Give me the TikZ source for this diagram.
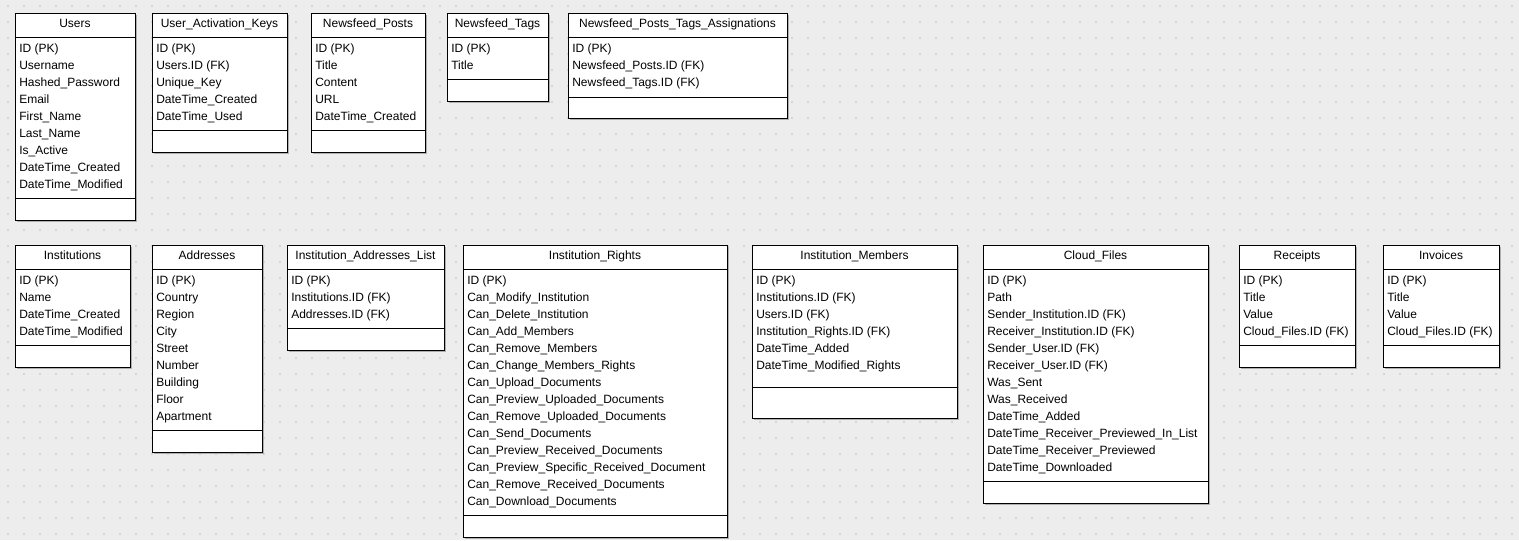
\documentclass[tikz,border=0pt]{standalone}
\usepackage{fontspec}
\setmainfont{Liberation Sans}
\definecolor{bg}{RGB}{237,237,237}
\definecolor{dotc}{RGB}{212,212,212}
\definecolor{shad}{RGB}{175,175,175}
\tikzset{
  frame/.style={draw=black, line width=0.7pt, fill=white},
  sep/.style={draw=black, line width=0.7pt},
  tabtitle/.style={anchor=base, inner sep=0pt, font=\fontsize{9}{12}\selectfont},
  tabrow/.style={anchor=base west, inner sep=0pt, font=\fontsize{9}{12}\selectfont},
}
\newcommand\erbox[8]{%
  \fill[shad] ({#2+2},{#3+2}) rectangle ({#4+2},{#6+2});
  \draw[frame] (#2,#3) rectangle (#4,#6);
  \draw[sep] (#2,{#3+24}) -- (#4,{#3+24});
  \draw[sep] (#2,#5) -- (#4,#5);
  \node[tabtitle] (#1-title) at ({(#2+#4)/2},{#3+14}) {#7};
  \foreach \t [count=\i] in {#8} \node[tabrow] (#1-\i) at ({#2+4},{#3+39+17*(\i-1)}) {\t};
}
\begin{document}
\begin{tikzpicture}[x=0.75pt,y=-0.75pt]
\useasboundingbox (0,0) rectangle (1519,540);
\fill[bg] (0,0) rectangle (1519,540);
\foreach \x in {8,24,...,1512} \foreach \y in {6,22,...,534} \fill[dotc] ({\x-0.9},{\y-0.9}) rectangle ({\x+0.9},{\y+0.9});
% row 1
\erbox{users}{15}{13}{135}{198}{220}{Users}{ID (PK),Username,Hashed\_Password,Email,First\_Name,Last\_Name,Is\_Active,DateTime\_Created,DateTime\_Modified}
\erbox{uak}{152}{13}{287}{130}{152}{User\_Activation\_Keys}{ID (PK),Users.ID (FK),Unique\_Key,DateTime\_Created,DateTime\_Used}
\erbox{posts}{311}{13}{425}{130}{152}{Newsfeed\_Posts}{ID (PK),Title,Content,URL,DateTime\_Created}
\erbox{tags}{447}{13}{548}{79}{101}{Newsfeed\_Tags}{ID (PK),Title}
\erbox{npta}{568}{13}{787}{97}{118}{Newsfeed\_Posts\_Tags\_Assignations}{ID (PK),Newsfeed\_Posts.ID (FK),Newsfeed\_Tags.ID (FK)}
% row 2
\erbox{inst}{15}{245}{130}{345}{367}{Institutions}{ID (PK),Name,DateTime\_Created,DateTime\_Modified}
\erbox{addr}{152}{245}{262}{430}{452}{Addresses}{ID (PK),Country,Region,City,Street,Number,Building,Floor,Apartment}
\erbox{ial}{287}{245}{444}{328}{350}{Institution\_Addresses\_List}{ID (PK),Institutions.ID (FK),Addresses.ID (FK)}
\erbox{rights}{463}{245}{727}{515}{537}{Institution\_Rights}{ID (PK),Can\_Modify\_Institution,Can\_Delete\_Institution,Can\_Add\_Members,Can\_Remove\_Members,Can\_Change\_Members\_Rights,Can\_Upload\_Documents,Can\_Preview\_Uploaded\_Documents,Can\_Remove\_Uploaded\_Documents,Can\_Send\_Documents,Can\_Preview\_Received\_Documents,Can\_Preview\_Specific\_Received\_Document,Can\_Remove\_Received\_Documents,Can\_Download\_Documents}
\erbox{members}{752}{245}{957}{387}{418}{Institution\_Members}{ID (PK),Institutions.ID (FK),Users.ID (FK),Institution\_Rights.ID (FK),DateTime\_Added,DateTime\_Modified\_Rights}
\erbox{cloud}{983}{245}{1208}{481}{503}{Cloud\_Files}{ID (PK),Path,Sender\_Institution.ID (FK),Receiver\_Institution.ID (FK),Sender\_User.ID (FK),Receiver\_User.ID (FK),Was\_Sent,Was\_Received,DateTime\_Added,DateTime\_Receiver\_Previewed\_In\_List,DateTime\_Receiver\_Previewed,DateTime\_Downloaded}
\erbox{receipts}{1239}{245}{1355}{345}{367}{Receipts}{ID (PK),Title,Value,Cloud\_Files.ID (FK)}
\erbox{invoices}{1383}{245}{1499}{345}{367}{Invoices}{ID (PK),Title,Value,Cloud\_Files.ID (FK)}
\end{tikzpicture}
\end{document}
